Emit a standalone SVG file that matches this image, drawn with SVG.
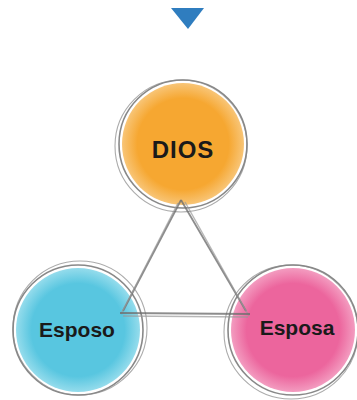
<svg xmlns="http://www.w3.org/2000/svg" width="357" height="400" viewBox="0 0 357 400">
<style>
.ring{fill:none;stroke:#6a6a6a;stroke-width:1.6;opacity:0.8}
.ring2{fill:none;stroke:#888;stroke-width:1.1;opacity:0.7}
.edge{stroke:#6f6f6f;stroke-width:1.8;fill:none;opacity:0.8}
.edge2{stroke:#999;stroke-width:1.4;fill:none;opacity:0.7}
.lbl{font-family:"Liberation Sans",Arial,sans-serif;font-weight:bold;fill:#1a1a1a;text-anchor:middle}
</style>
<defs>
<radialGradient id="gO"><stop offset="0.75" stop-color="#f6a731"/><stop offset="1" stop-color="#f8c577"/></radialGradient>
<radialGradient id="gB"><stop offset="0.75" stop-color="#58c6e0"/><stop offset="1" stop-color="#95dcec"/></radialGradient>
<radialGradient id="gP"><stop offset="0.75" stop-color="#ec659d"/><stop offset="1" stop-color="#f39cc0"/></radialGradient>
</defs>
<polygon points="171,8 204,8 188,29" fill="#2f7dbf"/>
<g id="dios">
<circle cx="183" cy="144" r="61" fill="url(#gO)"/>
<circle class="ring" cx="183" cy="144" r="64"/>
<circle class="ring2" cx="181" cy="146" r="66"/>
<text class="lbl" x="183" y="158" font-size="24" letter-spacing="1">DIOS</text>
</g>
<g id="esposo">
<circle cx="78" cy="330" r="62" fill="url(#gB)"/>
<circle class="ring" cx="78" cy="330" r="65"/>
<circle class="ring2" cx="80" cy="328" r="67"/>
<text class="lbl" x="77" y="337" font-size="21">Esposo</text>
</g>
<g id="esposa">
<circle cx="293" cy="330" r="62" fill="url(#gP)"/>
<circle class="ring" cx="293" cy="330" r="65"/>
<circle class="ring2" cx="291" cy="332" r="67"/>
<text class="lbl" x="297" y="335" font-size="21">Esposa</text>
</g>
<g id="connectors">
<line class="edge" x1="181" y1="200" x2="123" y2="311"/>
<line class="edge2" x1="178" y1="203" x2="121" y2="314"/>
<line class="edge" x1="181" y1="200" x2="246" y2="311"/>
<line class="edge2" x1="185" y1="202" x2="249" y2="316"/>
<line class="edge" x1="120" y1="313" x2="250" y2="314"/>
<line class="edge2" x1="123" y1="316" x2="248" y2="317"/>
</g>
</svg>
